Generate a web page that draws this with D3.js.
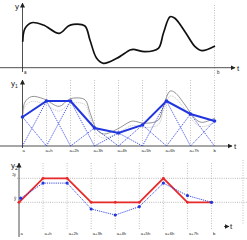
<!DOCTYPE html>
<html>
<head>
<meta charset="utf-8">
<script src="https://cdn.jsdelivr.net/npm/d3@7.9.0/dist/d3.min.js"></script>
<style>
  body { margin: 0; background: #fff; }
  text { font-family: "Liberation Sans", Arial, sans-serif; fill: #222; }
</style>
</head>
<body>
<svg id="chart" width="247" height="240"></svg>
<script>
// node labels (shared by panels 2 and 3)
const tickLabels = ['a', 'a+h', 'a+2h', 'a+3h', 'a+4h', 'a+5h', 'a+6h', 'a+7h', 'b'];
const nodes = d3.range(tickLabels.length);

// original signal y(t), t in steps of h from a
const curveT = [0.01, 0.10, 0.38, 0.87, 1.53, 1.91, 2.12, 2.60, 2.81, 3.09, 3.37, 3.93, 4.48, 4.62, 5.10, 5.66, 5.87, 6.15, 6.35, 6.77, 7.19, 7.47, 8.02];
const curveY = [26, 39, 45, 42.7, 34.4, 41.7, 43.4, 41.7, 27.7, 9.4, 4.4, 9.4, 17.7, 18.4, 16, 19.4, 34.4, 51, 49.4, 36, 21, 17, 21.7];

// y1: values at the nodes
const y1Nodes = [29, 45, 45, 18, 13, 21, 45, 32, 25];

// y2: quantised (red) and sampled (blue) series, in units of the level step
const y2Red = [0, 1, 1, 0, 0, 0, 1, 0, 0];
const y2Blue = [0.17, 0.8, 0.8, -0.28, -0.53, -0.18, 0.8, 0.28, 0];

const svg = d3.select('#chart');
const blue = '#2236e0';
const red = '#e82a2a';

const defs = svg.append('defs');
defs.append('marker').attr('id', 'arr').attr('viewBox', '0 0 10 10')
  .attr('refX', 9).attr('refY', 5).attr('markerWidth', 5).attr('markerHeight', 5)
  .attr('markerUnits', 'userSpaceOnUse').attr('orient', 'auto')
  .append('path').attr('d', 'M0,0L10,5L0,10z').attr('fill', '#222');

function arrowLine(x1, y1, x2, y2) {
  svg.append('line').attr('x1', x1).attr('y1', y1).attr('x2', x2).attr('y2', y2)
    .attr('stroke', '#222').attr('stroke-width', 0.8).attr('marker-end', 'url(#arr)');
}
function label(x, y, s, size, anchor) {
  return svg.append('text').attr('x', x).attr('y', y).attr('font-size', size)
    .attr('text-anchor', anchor || 'start').text(s);
}
function vDotted(x, y1, y2) {
  svg.append('line').attr('x1', x).attr('x2', x).attr('y1', y1).attr('y2', y2)
    .attr('stroke', '#999').attr('stroke-width', 0.6).attr('stroke-dasharray', '1,1.5');
}

const curvePts = curveT.map((t, i) => [t, curveY[i]]);

// ---------- panel 1 ----------
const x1 = d3.scaleLinear().domain([0, 8]).range([22.5, 214.5]);
const yp1 = d3.scaleLinear().domain([0, 60]).range([67.7, 7.7]);

vDotted(x1(8), 5, 78);
arrowLine(22.5, 72, 22.5, 3);
arrowLine(0, 67.7, 235, 67.7);
label(15, 9, 'y', 8);
label(237, 71, 't', 8);
label(24, 73.5, 'a', 4.5);
label(217, 73.5, 'b', 4.5).attr('fill', '#999');

svg.append('path').datum(curvePts)
  .attr('d', d3.line().x(d => x1(d[0])).y(d => yp1(d[1])).curve(d3.curveCatmullRom.alpha(0.5)))
  .attr('fill', 'none').attr('stroke', '#111').attr('stroke-width', 1.7);

// ---------- panel 2 ----------
const yp2 = d3.scaleLinear().domain([0, 60]).range([146, 86]);

nodes.slice(1).forEach(i => vDotted(x1(i), 80, 146));
arrowLine(22.5, 148, 22.5, 80);
arrowLine(0, 146, 232, 146);
label(11, 86, 'y', 8).append('tspan').attr('font-size', 5).attr('dy', 2).text('1');
label(234, 149, 't', 8);
svg.append('g').selectAll('text').data(tickLabels).join('text')
  .attr('x', (d, i) => x1(i) + (i ? -1 : 0)).attr('y', 152).attr('font-size', 4.2)
  .attr('fill', '#444').text(d => d);

// original signal, faint, behind the interpolant
svg.append('path').datum(curvePts)
  .attr('d', d3.line().x(d => x1(d[0])).y(d => yp2(8 + 0.92 * d[1])).curve(d3.curveCatmullRom.alpha(0.5)))
  .attr('fill', 'none').attr('stroke', '#666').attr('stroke-width', 0.7);
svg.append('path').datum(curvePts)
  .attr('d', d3.line().x(d => x1(d[0])).y(d => yp2(4 + 0.9 * d[1])).curve(d3.curveCatmullRom.alpha(0.5)))
  .attr('fill', 'none').attr('stroke', '#999').attr('stroke-width', 0.6).attr('stroke-dasharray', '1,1');

// hat functions
const hats = nodes.map(i => [[i - 1, 0], [i, y1Nodes[i]], [i + 1, 0]].filter(p => p[0] >= 0 && p[0] <= 8));
svg.append('g').selectAll('path').data(hats).join('path')
  .attr('d', d3.line().x(d => x1(d[0])).y(d => yp2(d[1])))
  .attr('fill', 'none').attr('stroke', '#3346e4').attr('stroke-width', 0.9).attr('stroke-dasharray', '1.2,1');

svg.append('path').datum(nodes)
  .attr('d', d3.line().x(i => x1(i)).y(i => yp2(y1Nodes[i])))
  .attr('fill', 'none').attr('stroke', blue).attr('stroke-width', 2);
svg.append('g').selectAll('circle').data(nodes).join('circle')
  .attr('cx', i => x1(i)).attr('cy', i => yp2(y1Nodes[i])).attr('r', 1.8).attr('fill', blue);

// ---------- panel 3 ----------
const x3 = d3.scaleLinear().domain([0, 8]).range([19, 211.5]);
const yp3 = d3.scaleLinear().domain([0, 1]).range([202.3, 178.3]);

nodes.slice(1).forEach(i => vDotted(x3(i), 163, 230));
vDotted(243, 160, 225);
[0, 1].forEach(v => {
  svg.append('line').attr('x1', 17).attr('x2', 247).attr('y1', yp3(v)).attr('y2', yp3(v))
    .attr('stroke', '#888').attr('stroke-width', 0.6).attr('stroke-dasharray', '1,1.2');
});
arrowLine(19, 237, 19, 163);
label(11, 168, 'y', 8).append('tspan').attr('font-size', 5).attr('dy', 2).text('2');
label(14, 176, '2ȳ', 3.5).attr('text-anchor', 'middle');
label(15, 200, 'ȳ', 4.5).attr('text-anchor', 'middle');
arrowLine(224, 226.5, 229, 226.5);
label(230, 229, 't', 8);
svg.append('g').selectAll('text').data(tickLabels).join('text')
  .attr('x', (d, i) => x3(i) + 1.5).attr('y', 235).attr('font-size', 4.2)
  .attr('fill', '#444').text(d => d);

svg.append('path').datum(nodes)
  .attr('d', d3.line().x(i => x3(i)).y(i => yp3(y2Red[i])))
  .attr('fill', 'none').attr('stroke', red).attr('stroke-width', 1.8);
svg.append('g').selectAll('circle').data(nodes).join('circle')
  .attr('cx', i => x3(i)).attr('cy', i => yp3(y2Red[i])).attr('r', 1.4).attr('fill', red);

svg.append('path').datum(nodes)
  .attr('d', d3.line().x(i => x3(i) + (i ? 0 : 1.7)).y(i => yp3(y2Blue[i])))
  .attr('fill', 'none').attr('stroke', blue).attr('stroke-width', 0.9).attr('stroke-dasharray', '1.2,1');
svg.append('g').selectAll('circle').data(nodes).join('circle')
  .attr('cx', i => x3(i) + (i ? 0 : 1.7)).attr('cy', i => yp3(y2Blue[i])).attr('r', 1.6).attr('fill', blue);
</script>
</body>
</html>
